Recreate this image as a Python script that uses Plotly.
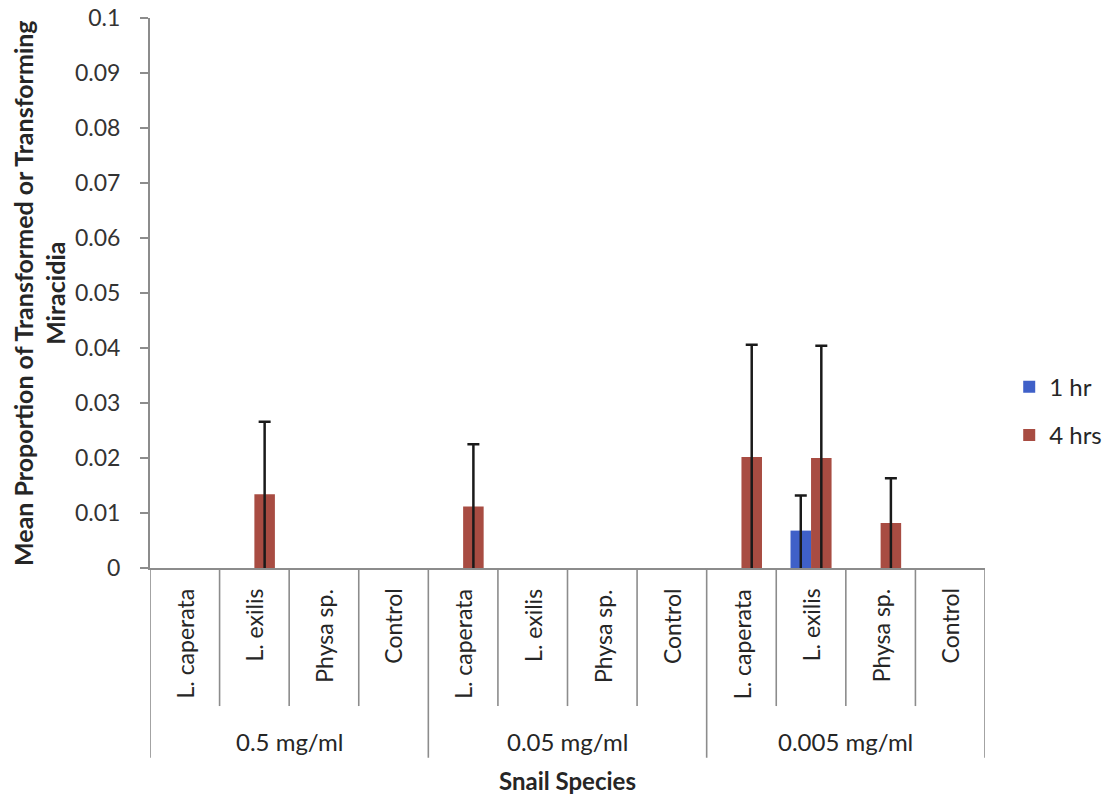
import plotly.graph_objects as go

# ---- data ----
concentrations = ["0.5 mg/ml", "0.05 mg/ml", "0.005 mg/ml"]
species = ["L. caperata", "L. exilis", "Physa sp.", "Control"]
series_names = ["1 hr", "4 hrs"]
hr1_values = [0, 0, 0, 0, 0, 0, 0, 0, 0, 0.0068, 0, 0]
hr1_errors = [None, None, None, None, None, None, None, None, None, 0.0064, None, None]
hr4_values = [0, 0.0134, 0, 0, 0.0112, 0, 0, 0, 0.0202, 0.0200, 0.0082, 0]
hr4_errors = [None, 0.0132, None, None, 0.0113, None, None, None, 0.0204, 0.0204, 0.0081, None]
y_ticks = [0, 0.01, 0.02, 0.03, 0.04, 0.05, 0.06, 0.07, 0.08, 0.09, 0.1]

colors = ["#3F60C8", "#A84C42"]
FONT = "Lato"
TXT = "#262626"
AXC = "#8C8C8C"

labels = [s for c in concentrations for s in species]
xs = list(range(len(labels)))

fig = go.Figure()
for name, vals, errs, col, grp in [
    (series_names[0], hr1_values, hr1_errors, colors[0], "a"),
    (series_names[1], hr4_values, hr4_errors, colors[1], "b"),
]:
    minus = [v if e is not None else None for v, e in zip(vals, errs)]
    fig.add_trace(go.Bar(
        x=xs, y=vals, name=name, marker=dict(color=col, line=dict(width=0)),
        offsetgroup=grp, legendgroup=grp, hoverinfo="skip",
        error_y=dict(type="data", symmetric=False, array=errs, arrayminus=minus,
                     color="#1a1a1a", thickness=2.5, width=0),
    ))
    # caps on top of the error bars
    tops = [v + e if e is not None else None for v, e in zip(vals, errs)]
    zeros = [0 if e is not None else None for e in errs]
    fig.add_trace(go.Bar(
        x=xs, y=tops, marker=dict(color="rgba(0,0,0,0)", line=dict(width=0)),
        offsetgroup=grp, showlegend=False, hoverinfo="skip",
        error_y=dict(type="data", symmetric=False, array=zeros, arrayminus=zeros,
                     color="#1a1a1a", thickness=2.5, width=6),
    ))

shapes = []
for k in range(len(labels) + 1):
    is_group = (k % len(species) == 0)
    shapes.append(dict(type="line", xref="x", yref="paper", x0=k - 0.5, x1=k - 0.5,
                       y0=0, y1=-0.345 if is_group else -0.251,
                       line=dict(color=AXC, width=1.6)))

annotations = []
for i, lab in enumerate(labels):
    annotations.append(dict(x=i, y=-0.034, xref="x", yref="paper", text=lab,
                            textangle=-90, showarrow=False, xanchor="center", yanchor="top",
                            font=dict(family=FONT, size=23, color=TXT)))
for g, conc in enumerate(concentrations):
    annotations.append(dict(x=g * len(species) + (len(species) - 1) / 2, y=-0.316,
                            xref="x", yref="paper", text=conc, showarrow=False,
                            xanchor="center", yanchor="middle",
                            font=dict(family=FONT, size=24, color=TXT)))
annotations.append(dict(x=(len(labels) - 1) / 2, y=-0.387, xref="x", yref="paper",
                        text="<b>Snail Species</b>", showarrow=False,
                        xanchor="center", yanchor="middle",
                        font=dict(family=FONT, size=24, color=TXT)))
annotations.append(dict(x=-0.133, y=0.5, xref="paper", yref="paper",
                        text="<b>Mean Proportion of Transformed or Transforming<br>Miracidia</b>",
                        textangle=-90, showarrow=False, xanchor="center", yanchor="middle",
                        font=dict(family=FONT, size=25, color=TXT)))

fig.update_layout(
    width=1111, height=797,
    margin=dict(l=150, r=126, t=18, b=229, autoexpand=False),
    paper_bgcolor="white", plot_bgcolor="white",
    barmode="group", bargap=0.41, bargroupgap=0,
    showlegend=True,
    legend=dict(x=1.029, xanchor="left", y=0.285, yanchor="middle",
                traceorder="grouped", tracegroupgap=14,
                font=dict(family=FONT, size=24, color=TXT), bgcolor="rgba(0,0,0,0)"),
    xaxis=dict(range=[-0.5, len(labels) - 0.5], showticklabels=False, ticks="",
               showgrid=False, zeroline=False, showline=True, linecolor=AXC, linewidth=2),
    yaxis=dict(range=[0, 0.1], tickvals=y_ticks, ticks="outside", ticklen=8,
               tickcolor=AXC, tickwidth=1.6, showgrid=False, zeroline=False,
               showline=True, linecolor=AXC, linewidth=2, ticklabelstandoff=15,
               tickfont=dict(family=FONT, size=23, color="#333333")),
    shapes=shapes, annotations=annotations,
)

fig.write_html("out.html")
